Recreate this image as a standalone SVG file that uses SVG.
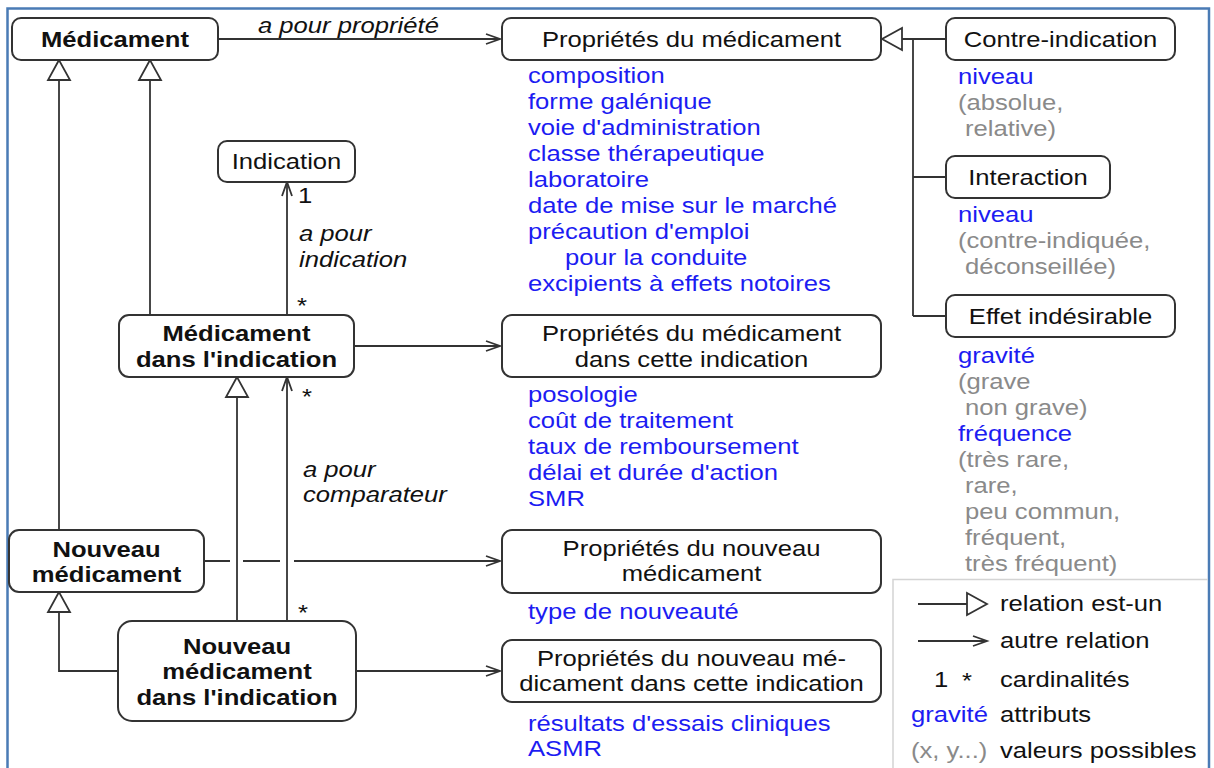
<svg xmlns="http://www.w3.org/2000/svg" width="1214" height="768" viewBox="0 0 1214 768">
  <style>
    text { font-family: "Liberation Sans", Arial, sans-serif; font-size: 22px; fill: #111; }
    .b { font-weight: bold; }
    .i { font-style: italic; }
    .c { text-anchor: middle; }
    .attr { fill: #1c1cf2; }
    .val { fill: #8a8a8a; }
    .box { fill: #fff; stroke: #333; stroke-width: 2; }
    .edge { fill: none; stroke: #333; stroke-width: 1.8; }
  </style>
  <defs>
    <marker id="open" markerUnits="userSpaceOnUse" markerWidth="20" markerHeight="16" viewBox="-16 -8 20 16" refX="0" refY="0" orient="auto">
      <path d="M-14,-5 L0,0 L-14,5" fill="none" stroke="#333" stroke-width="1.8"/>
    </marker>
    <marker id="isa" markerUnits="userSpaceOnUse" markerWidth="26" markerHeight="28" viewBox="-23 -13 26 26" refX="0" refY="0" orient="auto">
      <path d="M0,0 L-20,-11 L-20,11 Z" fill="#fff" stroke="#333" stroke-width="1.8"/>
    </marker>
  </defs>

  <rect width="1214" height="768" fill="#fff"/>
  <!-- outer frame -->
  <rect x="7.5" y="8.5" width="1201.5" height="800" fill="none" stroke="#4a7bb5" stroke-width="2.5"/>

  <!-- connectors -->
  <g id="connectors">
    <path class="edge" d="M218,39 H500" marker-end="url(#open)"/>
    <path class="edge" d="M946,39 H882" marker-end="url(#isa)"/>
    <path class="edge" d="M913,39 V316 M913,177 H946 M913,316 H946"/>
    <path class="edge" d="M59,530 V60" marker-end="url(#isa)"/>
    <path class="edge" d="M150,315 V60" marker-end="url(#isa)"/>
    <path class="edge" d="M287,315 V182" marker-end="url(#open)"/>
    <path class="edge" d="M354,346 H500" marker-end="url(#open)"/>
    <path class="edge" d="M237,621 V377" marker-end="url(#isa)"/>
    <path class="edge" d="M287,621 V377" marker-end="url(#open)"/>
    <path class="edge" d="M204,561 H230 M243,561 H280"/>
    <path class="edge" d="M294,561 H500" marker-end="url(#open)"/>
    <path class="edge" d="M118,671 H59 V592" marker-end="url(#isa)"/>
    <path class="edge" d="M356,671 H500" marker-end="url(#open)"/>

    <text class="i" transform="translate(258 33) scale(1.165 1)">a pour propriété</text>
    <text class="i" transform="translate(299 241) scale(1.165 1)">a pour</text>
    <text class="i" transform="translate(299 267) scale(1.165 1)">indication</text>
    <text transform="translate(298 203) scale(1.165 1)">1</text>
    <text transform="translate(297 313) scale(1.165 1)">*</text>
    <text class="i" transform="translate(303 477) scale(1.165 1)">a pour</text>
    <text class="i" transform="translate(303 502) scale(1.165 1)">comparateur</text>
    <text transform="translate(302 404) scale(1.165 1)">*</text>
    <text transform="translate(298 620) scale(1.165 1)">*</text>
  </g>

  <g id="medicament">
    <rect class="box" x="12" y="18" width="206" height="42" rx="9"/>
    <text class="b c" transform="translate(115 47) scale(1.165 1)">Médicament</text>
  </g>

  <g id="proprietes-medicament">
    <rect class="box" x="502" y="18" width="379" height="42" rx="9"/>
    <text class="c" transform="translate(691.5 47) scale(1.165 1)">Propriétés du médicament</text>
    <g class="attr">
      <text class="attr" transform="translate(528 83) scale(1.165 1)">composition</text>
      <text class="attr" transform="translate(528 109) scale(1.165 1)">forme galénique</text>
      <text class="attr" transform="translate(528 135) scale(1.165 1)">voie d'administration</text>
      <text class="attr" transform="translate(528 161) scale(1.165 1)">classe thérapeutique</text>
      <text class="attr" transform="translate(528 187) scale(1.165 1)">laboratoire</text>
      <text class="attr" transform="translate(528 213) scale(1.165 1)">date de mise sur le marché</text>
      <text class="attr" transform="translate(528 239) scale(1.165 1)">précaution d'emploi</text>
      <text class="attr" transform="translate(565 265) scale(1.165 1)">pour la conduite</text>
      <text class="attr" transform="translate(528 291) scale(1.165 1)">excipients à effets notoires</text>
    </g>
  </g>

  <g id="contre-indication">
    <rect class="box" x="946" y="18" width="229" height="42" rx="9"/>
    <text class="c" transform="translate(1060.5 47) scale(1.165 1)">Contre-indication</text>
    <text class="attr" transform="translate(958 84) scale(1.165 1)">niveau</text>
    <text class="val" transform="translate(958 110) scale(1.165 1)">(absolue,</text>
    <text class="val" transform="translate(965 136) scale(1.165 1)">relative)</text>
  </g>

  <g id="indication">
    <rect class="box" x="218" y="141" width="137" height="41" rx="9"/>
    <text class="c" transform="translate(286.5 169) scale(1.165 1)">Indication</text>
  </g>

  <g id="interaction">
    <rect class="box" x="946" y="156" width="164" height="42" rx="9"/>
    <text class="c" transform="translate(1028 185) scale(1.165 1)">Interaction</text>
    <text class="attr" transform="translate(958 222) scale(1.165 1)">niveau</text>
    <text class="val" transform="translate(958 248) scale(1.165 1)">(contre-indiquée,</text>
    <text class="val" transform="translate(965 274) scale(1.165 1)">déconseillée)</text>
  </g>

  <g id="effet-indesirable">
    <rect class="box" x="946" y="295" width="229" height="42" rx="9"/>
    <text class="c" transform="translate(1060.5 324) scale(1.165 1)">Effet indésirable</text>
    <text class="attr" transform="translate(958 363) scale(1.165 1)">gravité</text>
    <text class="val" transform="translate(958 389) scale(1.165 1)">(grave</text>
    <text class="val" transform="translate(965 415) scale(1.165 1)">non grave)</text>
    <text class="attr" transform="translate(958 441) scale(1.165 1)">fréquence</text>
    <text class="val" transform="translate(958 467) scale(1.165 1)">(très rare,</text>
    <text class="val" transform="translate(965 493) scale(1.165 1)">rare,</text>
    <text class="val" transform="translate(965 519) scale(1.165 1)">peu commun,</text>
    <text class="val" transform="translate(965 545) scale(1.165 1)">fréquent,</text>
    <text class="val" transform="translate(965 571) scale(1.165 1)">très fréquent)</text>
  </g>

  <g id="medicament-indication">
    <rect class="box" x="119" y="315" width="235" height="62" rx="10"/>
    <text class="b c" transform="translate(236.5 341) scale(1.165 1)">Médicament</text>
    <text class="b c" transform="translate(236.5 367) scale(1.165 1)">dans l'indication</text>
  </g>

  <g id="proprietes-indication">
    <rect class="box" x="502" y="315" width="379" height="62" rx="10"/>
    <text class="c" transform="translate(691.5 341) scale(1.165 1)">Propriétés du médicament</text>
    <text class="c" transform="translate(691.5 367) scale(1.165 1)">dans cette indication</text>
    <text class="attr" transform="translate(528 402) scale(1.165 1)">posologie</text>
    <text class="attr" transform="translate(528 428) scale(1.165 1)">coût de traitement</text>
    <text class="attr" transform="translate(528 454) scale(1.165 1)">taux de remboursement</text>
    <text class="attr" transform="translate(528 480) scale(1.165 1)">délai et durée d'action</text>
    <text class="attr" transform="translate(528 506) scale(1.165 1)">SMR</text>
  </g>

  <g id="nouveau-medicament">
    <rect class="box" x="9" y="530" width="195" height="62" rx="10"/>
    <text class="b c" transform="translate(106.5 557) scale(1.165 1)">Nouveau</text>
    <text class="b c" transform="translate(106.5 582) scale(1.165 1)">médicament</text>
  </g>

  <g id="proprietes-nouveau">
    <rect class="box" x="502" y="530" width="379" height="63" rx="10"/>
    <text class="c" transform="translate(691.5 556) scale(1.165 1)">Propriétés du nouveau</text>
    <text class="c" transform="translate(691.5 581) scale(1.165 1)">médicament</text>
    <text class="attr" transform="translate(528 619) scale(1.165 1)">type de nouveauté</text>
  </g>

  <g id="nouveau-medicament-indication">
    <rect class="box" x="118" y="621" width="238" height="100" rx="14"/>
    <text class="b c" transform="translate(237 654) scale(1.165 1)">Nouveau</text>
    <text class="b c" transform="translate(237 679) scale(1.165 1)">médicament</text>
    <text class="b c" transform="translate(237 705) scale(1.165 1)">dans l'indication</text>
  </g>

  <g id="proprietes-nouveau-indication">
    <rect class="box" x="502" y="640" width="379" height="62" rx="10"/>
    <text class="c" transform="translate(691.5 666) scale(1.165 1)">Propriétés du nouveau mé-</text>
    <text class="c" transform="translate(691.5 691) scale(1.165 1)">dicament dans cette indication</text>
    <text class="attr" transform="translate(528 731) scale(1.165 1)">résultats d'essais cliniques</text>
    <text class="attr" transform="translate(528 756) scale(1.165 1)">ASMR</text>
  </g>

  <!-- legend -->
  <g id="legend">
    <path d="M893,768 V579.5 H1208" fill="#fff" stroke="#d4d4d4" stroke-width="1.5"/>
    <path class="edge" d="M918,604 H987" marker-end="url(#isa)"/>
    <text transform="translate(1000 611) scale(1.165 1)">relation est-un</text>
    <path class="edge" d="M918,641 H987" marker-end="url(#open)"/>
    <text transform="translate(1000 648) scale(1.165 1)">autre relation</text>
    <text transform="translate(934 687) scale(1.165 1)">1</text>
    <text transform="translate(962 688) scale(1.165 1)">*</text>
    <text transform="translate(1000 687) scale(1.165 1)">cardinalités</text>
    <text class="attr" transform="translate(911 722) scale(1.165 1)">gravité</text>
    <text transform="translate(1000 722) scale(1.165 1)">attributs</text>
    <text class="val" transform="translate(911 758) scale(1.165 1)">(x, y...)</text>
    <text transform="translate(1000 758) scale(1.165 1)">valeurs possibles</text>
  </g>
</svg>
